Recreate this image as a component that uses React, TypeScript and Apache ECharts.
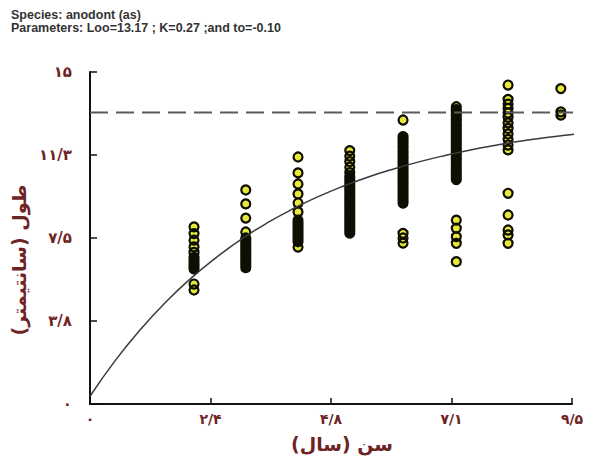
import React, { useEffect, useRef } from "react";
import * as echarts from "echarts";

const titleLine1 = "Species: anodont (as)";
const titleLine2 = "Parameters: Loo=13.17 ; K=0.27 ;and to=-0.10";
const xTickLabels = ["۰", "۲/۴", "۴/۸", "۷/۱", "۹/۵"];
const yTickLabels = ["۰", "۳/۸", "۷/۵", "۱۱/۳", "۱۵"];
const xName = "سن (سال)";
const yName = "طول (سانتیمتر)";

const ages = [2.05, 3.07, 4.1, 5.12, 6.17, 7.22, 8.24, 9.28];
const lengthsAge2 = [8.0, 7.7, 7.4, 7.1, 6.85, 6.62, 6.55, 6.48, 6.42, 6.36, 6.3, 6.25, 6.2, 6.15, 6.1, 5.42, 5.15];
const lengthsAge3 = [9.67, 9.04, 8.4, 7.77, 7.5, 7.44, 7.37, 7.3, 7.24, 7.17, 7.1, 7.03, 6.97, 6.9, 6.83, 6.76, 6.7, 6.63, 6.56, 6.5, 6.43, 6.36, 6.3, 6.23, 6.16];
const lengthsAge4 = [11.16, 10.44, 9.94, 9.49, 9.08, 8.68, 8.31, 8.2, 8.12, 8.05, 7.98, 7.9, 7.83, 7.76, 7.69, 7.62, 7.55, 7.48, 7.4, 7.33, 7.09];
const lengthsAge5 = [11.45, 11.2, 10.95, 10.7, 10.45, 10.3, 10.23, 10.16, 10.09, 10.02, 9.95, 9.88, 9.81, 9.74, 9.67, 9.6, 9.53, 9.46, 9.39, 9.32, 9.25, 9.18, 9.11, 9.04, 8.97, 8.9, 8.83, 8.76, 8.69, 8.62, 8.55, 8.48, 8.41, 8.34, 8.27, 8.2, 8.13, 8.06, 7.99, 7.92, 7.85, 7.78, 7.72];
const lengthsAge6 = [12.83, 12.08, 12.0, 11.92, 11.85, 11.77, 11.7, 11.62, 11.55, 11.47, 11.4, 11.32, 11.25, 11.17, 11.1, 11.02, 10.95, 10.87, 10.8, 10.72, 10.65, 10.57, 10.5, 10.42, 10.35, 10.27, 10.2, 10.12, 10.05, 9.97, 9.9, 9.82, 9.75, 9.67, 9.6, 9.52, 9.45, 9.37, 9.3, 9.22, 9.15, 9.08, 7.71, 7.5, 7.27];
const lengthsAge7 = [13.43, 13.3, 13.22, 13.15, 13.07, 13.0, 12.92, 12.85, 12.77, 12.7, 12.62, 12.55, 12.47, 12.4, 12.32, 12.25, 12.17, 12.1, 12.02, 11.95, 11.87, 11.8, 11.72, 11.65, 11.57, 11.5, 11.42, 11.35, 11.27, 11.2, 11.12, 11.05, 10.97, 10.9, 10.82, 10.75, 10.67, 10.6, 10.52, 10.45, 10.37, 10.3, 10.22, 10.14, 8.31, 7.94, 7.56, 7.26, 6.43];
const lengthsAge8 = [14.41, 13.76, 13.55, 13.35, 13.15, 12.95, 12.7, 12.45, 12.2, 11.95, 11.7, 11.48, 9.52, 8.54, 7.86, 7.64, 7.26];
const lengthsAge9 = [14.25, 13.2, 13.05];
const lengthsByAge = [lengthsAge2, lengthsAge3, lengthsAge4, lengthsAge5, lengthsAge6, lengthsAge7, lengthsAge8, lengthsAge9];

// fitted growth curve
const curveAges = [0, 0.5, 1, 1.5, 2, 2.5, 3, 3.5, 4, 4.5, 5, 5.5, 6, 6.5, 7, 7.5, 8, 8.5, 9, 9.5, 9.8];
const curveLengths = [0.35, 1.97, 3.38, 4.62, 5.7, 6.64, 7.47, 8.19, 8.82, 9.37, 9.85, 10.27, 10.63, 10.95, 11.23, 11.48, 11.69, 11.88, 12.04, 12.18, 12.26];

const lInf = 13.17;
const asymptoteAges = [0, 9.55];
const extraPoint = [9.52, 13.1];

const labelColor = "#6e2424";
const fontFamily = "'DejaVu Sans', 'Noto Sans', sans-serif";
const titleStyle = {
  fontSize: 12.5,
  fontWeight: "bold",
  color: "#333333",
  fontFamily: "'Liberation Sans', Arial, sans-serif",
  lineHeight: 12,
};

export default function App() {
  const ref = useRef<HTMLDivElement>(null);
  useEffect(() => {
    if (!ref.current) return;
    const chart = echarts.init(ref.current, undefined, { renderer: "svg" });
    const scatterData: number[][] = [];
    ages.forEach((a, i) => lengthsByAge[i].forEach((v) => scatterData.push([a, v])));
    const curveData = curveAges.map((a, i) => [a, curveLengths[i]]);
    const asymData = asymptoteAges.map((a) => [a, lInf]);
    chart.setOption({
      animation: false,
      backgroundColor: "#ffffff",
      title: [
        { text: titleLine1, left: 11, top: 9, padding: 0, textStyle: titleStyle },
        { text: titleLine2, left: 11, top: 22, padding: 0, textStyle: titleStyle },
      ],
      grid: { left: 90, right: 24, top: 72, bottom: 60 },
      xAxis: {
        type: "value",
        min: 0,
        max: 9.5,
        interval: 2.375,
        name: xName,
        nameLocation: "middle",
        nameGap: 30,
        nameTextStyle: {
          color: labelColor,
          fontSize: 19,
          fontWeight: "bold",
          fontFamily,
          padding: [0, 0, 0, 22],
        },
        axisLine: { show: true, lineStyle: { color: "#111", width: 2 } },
        axisTick: { show: true, inside: true, length: 6, lineStyle: { color: "#111", width: 1.5 } },
        axisLabel: {
          color: labelColor,
          fontSize: 14,
          fontWeight: "bold",
          fontFamily,
          margin: 8,
          formatter: (v: number) => xTickLabels[Math.round(v / 2.375)] ?? "",
        },
        splitLine: { show: false },
      },
      yAxis: {
        type: "value",
        min: 0,
        max: 15,
        interval: 3.75,
        name: yName,
        nameLocation: "middle",
        nameGap: 40,
        nameTextStyle: {
          color: labelColor,
          fontSize: 19,
          fontWeight: "bold",
          fontFamily,
          padding: [0, 44, 0, 0],
        },
        axisLine: { show: true, lineStyle: { color: "#111", width: 2 } },
        axisTick: { show: true, inside: true, length: 7, lineStyle: { color: "#111", width: 1.5 } },
        axisLabel: {
          color: labelColor,
          fontSize: 15,
          fontWeight: "bold",
          fontFamily,
          margin: 18,
          formatter: (v: number) => yTickLabels[Math.round(v / 3.75)] ?? "",
        },
        splitLine: { show: false },
      },
      series: [
        {
          type: "scatter",
          data: scatterData,
          symbol: "circle",
          symbolSize: 9,
          large: true,
          largeThreshold: 1,
          itemStyle: { color: "#e8e83c", borderColor: "#0e0e02", borderWidth: 2.2, opacity: 1 },
          z: 2,
        },
        {
          type: "scatter",
          data: [extraPoint],
          symbol: "circle",
          symbolSize: 6,
          itemStyle: { color: "#ffffff", borderColor: "#555", borderWidth: 1.2 },
          z: 2,
        },
        {
          type: "line",
          data: asymData,
          symbol: "none",
          clip: false,
          lineStyle: { color: "#5a5a5a", width: 2, type: [18, 8] },
          z: 3,
        },
        {
          type: "line",
          data: curveData,
          symbol: "none",
          smooth: true,
          clip: false,
          lineStyle: { color: "#3a3a3a", width: 1.5 },
          z: 4,
        },
      ],
    });
    return () => chart.dispose();
  }, []);
  return (
    <div
      ref={ref}
      style={{ position: "fixed", left: 0, top: 0, width: 596, height: 464 }}
    />
  );
}
